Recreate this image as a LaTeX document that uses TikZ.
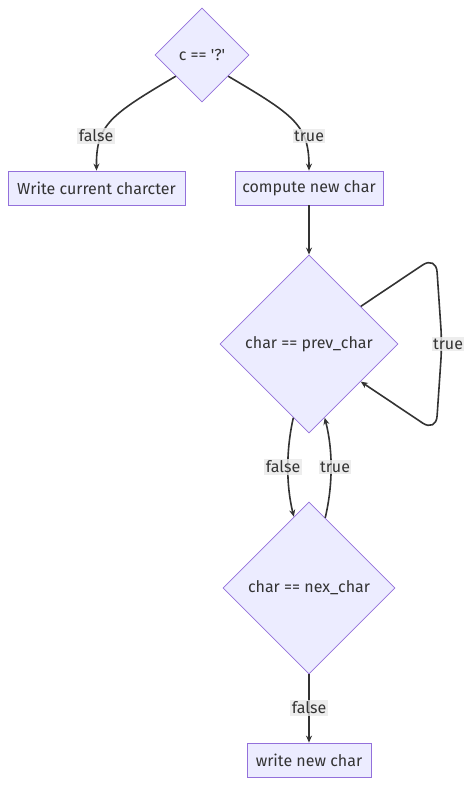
\documentclass[tikz,border=0pt]{standalone}
\usepackage{fontspec}
\setmainfont{Fira Sans}
\usetikzlibrary{shapes.geometric,arrows.meta}

\definecolor{boxfill}{HTML}{ECECFF}
\definecolor{boxline}{HTML}{9370DB}
\definecolor{edgeline}{HTML}{333333}
\definecolor{labelbg}{HTML}{E8E8E8}

\tikzset{
    stepbox/.style={draw=boxline, fill=boxfill, line width=0.8pt, minimum height=34pt, inner sep=0pt, text=edgeline},
    test/.style={diamond, aspect=1, draw=boxline, fill=boxfill, line width=0.8pt, inner sep=0pt, text=edgeline},
    flow/.style={draw=edgeline, line width=1.6pt, -{Stealth[length=7pt,width=6pt]}},
    lbl/.style={fill=labelbg, fill opacity=0.8, text opacity=1, inner sep=1.5pt, text=edgeline}
}

\begin{document}
\begin{tikzpicture}[x=1pt, y=-1pt, font=\fontsize{16}{18}\selectfont]
            \useasboundingbox (0,0) rectangle (471,785);

            % decisions and steps
            \node[test, minimum size=94pt] (qmark) at (202,55) {c == \textquotesingle?\textquotesingle};
            \node[stepbox, minimum width=177pt] (curr) at (96.5,188) {Write current charcter};
            \node[stepbox, minimum width=148pt] (calc) at (309,188) {compute new char};
            \node[test, minimum size=178pt] (prev) at (309,344) {char == prev\_char};
            \node[test, minimum size=172pt] (next) at (309,588) {char == nex\_char};
            \node[stepbox, minimum width=124pt] (newc) at (309,760) {write new char};

            % connectors
            \draw[flow] (qmark.219) .. controls (110,115) and (96,125) .. (curr.north);
            \draw[flow] (qmark.-39) .. controls (294,115) and (309,125) .. (calc.north);
            \draw[flow] (calc) -- (prev);
            \draw[flow, rounded corners=16pt] (prev.36) -- (436,256) -- (442,344) -- (436,432) -- (prev.-36);
            \draw[flow] (prev.258) .. controls (286,450) and (286,485) .. (next.102);
            \draw[flow] (next.77) .. controls (333,485) and (333,450) .. (prev.282);
            \draw[flow] (next) -- (newc);

            % edge labels
            \node[lbl] (f1) at (96,136) {false};
            \node[lbl] (t1) at (309,136) {true};
            \node[lbl] (t2) at (448,344) {true};
            \node[lbl] (f2) at (283,467) {false};
            \node[lbl] (t3) at (335,467) {true};
            \node[lbl] (f3) at (309,708) {false};
\end{tikzpicture}
\end{document}
